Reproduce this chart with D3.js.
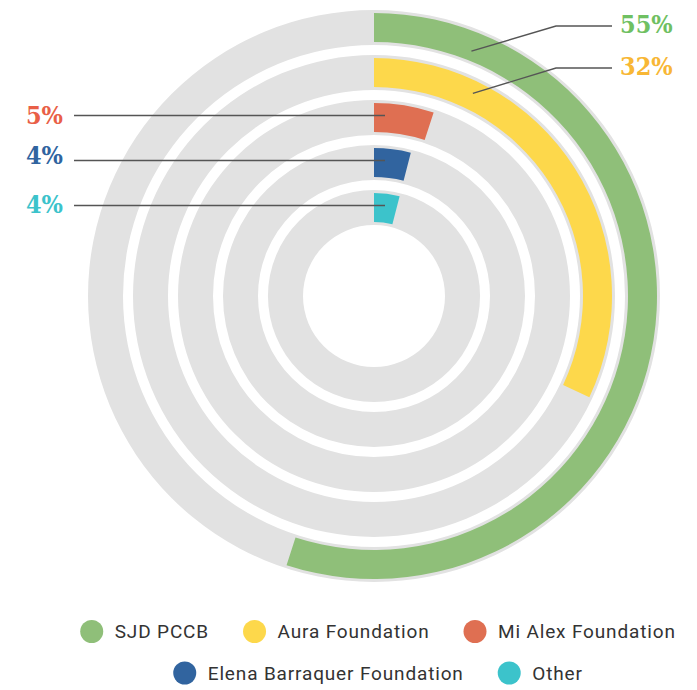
<!DOCTYPE html>
<html>
<head>
<meta charset="utf-8">
<script src="https://cdn.jsdelivr.net/npm/d3@7"></script>
<style>
  body { margin: 0; background: #fff; }
  svg { display: block; }
</style>
</head>
<body>
<svg id="chart" width="697" height="690"></svg>
<script>
// data
const categories = ['SJD PCCB', 'Aura Foundation', 'Mi Alex Foundation', 'Elena Barraquer Foundation', 'Other']
const shares = [55, 32, 5, 4, 4]
const barColors = ['#8fbf79', '#fdd84b', '#df6f52', '#31649f', '#3cc3cb']
const labelColors = ['#6fc062', '#f8b735', '#e95f47', '#30649f', '#3cc3cb']
const legendRows = [[0, 1, 2], [3, 4]]

const cx = 374
const cy = 296
const outerR = 286
const innerR = 71
const inset = 3

const svg = d3.select('#chart')
const g = svg.append('g').attr('transform', `translate(${cx},${cy})`)

// reversed range: radius(d) is the inner edge of the band
const radius = d3.scaleBand()
  .domain(categories)
  .range([outerR, innerR])
  .paddingInner(0.2222)

const angle = d3.scaleLinear()
  .domain([0, 100])
  .range([0, 2 * Math.PI])

const inR = d => radius(d)
const outR = d => radius(d) + radius.bandwidth()
const midR = d => radius(d) + radius.bandwidth() / 2

// grey tracks
g.selectAll('.track')
  .data(categories)
  .enter()
  .append('path')
  .attr('class', 'track')
  .attr('fill', '#e2e2e2')
  .attr('d', d => d3.arc()
    .outerRadius(outR(d))
    .innerRadius(inR(d))
    .startAngle(0)
    .endAngle(2 * Math.PI)())

// value arcs
g.selectAll('.bar')
  .data(categories)
  .enter()
  .append('path')
  .attr('class', 'bar')
  .attr('fill', (_, i) => barColors[i])
  .attr('d', (d, i) => d3.arc()
    .outerRadius(outR(d) - inset)
    .innerRadius(inR(d) + inset)
    .startAngle(0)
    .endAngle(angle(shares[i]))())

const fmt = v => `${v}%`

// callouts for the two big ones, on the right
const rightLabels = [
  { i: 0, y: 26, deg: 21.7, dr: -5 },
  { i: 1, y: 68, deg: 26, dr: 2 }
]
// small ones go left; dy nudges the text off the leader line
const leftLabels = [
  { i: 2, dy: 0 },
  { i: 3, dy: -4 },
  { i: 4, dy: 0 }
]

const callouts = svg.append('g').attr('class', 'callouts')

rightLabels.forEach(l => {
  const r = midR(categories[l.i]) + l.dr
  const a = l.deg * Math.PI / 180
  const px = cx + r * Math.sin(a)
  const py = cy - r * Math.cos(a)
  callouts.append('path')
    .attr('fill', 'none')
    .attr('stroke', '#555')
    .attr('stroke-width', 1.4)
    .attr('d', d3.line()([[612, l.y], [556, l.y], [px, py]]))
  callouts.append('text')
    .attr('x', 620)
    .attr('y', l.y - 2)
    .attr('dy', '0.36em')
    .attr('fill', labelColors[l.i])
    .attr('class', 'pct')
    .text(fmt(shares[l.i]))
})

leftLabels.forEach(l => {
  const y = cy - midR(categories[l.i]) - 2
  callouts.append('line')
    .attr('x1', 74).attr('x2', cx + 11)
    .attr('y1', y).attr('y2', y)
    .attr('stroke', '#555')
    .attr('stroke-width', 1.4)
  callouts.append('text')
    .attr('x', 63)
    .attr('y', y - 1 + l.dy)
    .attr('dy', '0.36em')
    .attr('text-anchor', 'end')
    .attr('fill', labelColors[l.i])
    .attr('class', 'pct')
    .text(fmt(shares[l.i]))
})

callouts.selectAll('.pct')
  .attr('font-family', '"DejaVu Serif", serif')
  .attr('font-stretch', 'condensed')
  .attr('font-weight', 'bold')
  .attr('font-size', 25)

// legend
const legend = svg.append('g').attr('class', 'legend')
const rowY = [631.5, 673]
const dotR = 11.5
const textGap = 23
const itemGap = 34

legendRows.forEach((row, ri) => {
  const rowG = legend.append('g')
  let x = 0
  row.forEach(i => {
    const item = rowG.append('g').attr('transform', `translate(${x},0)`)
    item.append('circle')
      .attr('cx', dotR)
      .attr('cy', 0)
      .attr('r', dotR)
      .attr('fill', barColors[i])
    const t = item.append('text')
      .attr('x', dotR + textGap)
      .attr('dy', '0.35em')
      .attr('font-family', 'Roboto, sans-serif')
      .attr('font-size', 19)
      .attr('letter-spacing', 0.85)
      .attr('fill', '#333')
      .text(categories[i])
    x += dotR + textGap + t.node().getComputedTextLength() + itemGap
  })
  const total = x - itemGap
  rowG.attr('transform', `translate(${(cx + 4) - total / 2},${rowY[ri]})`)
})
</script>
</body>
</html>
